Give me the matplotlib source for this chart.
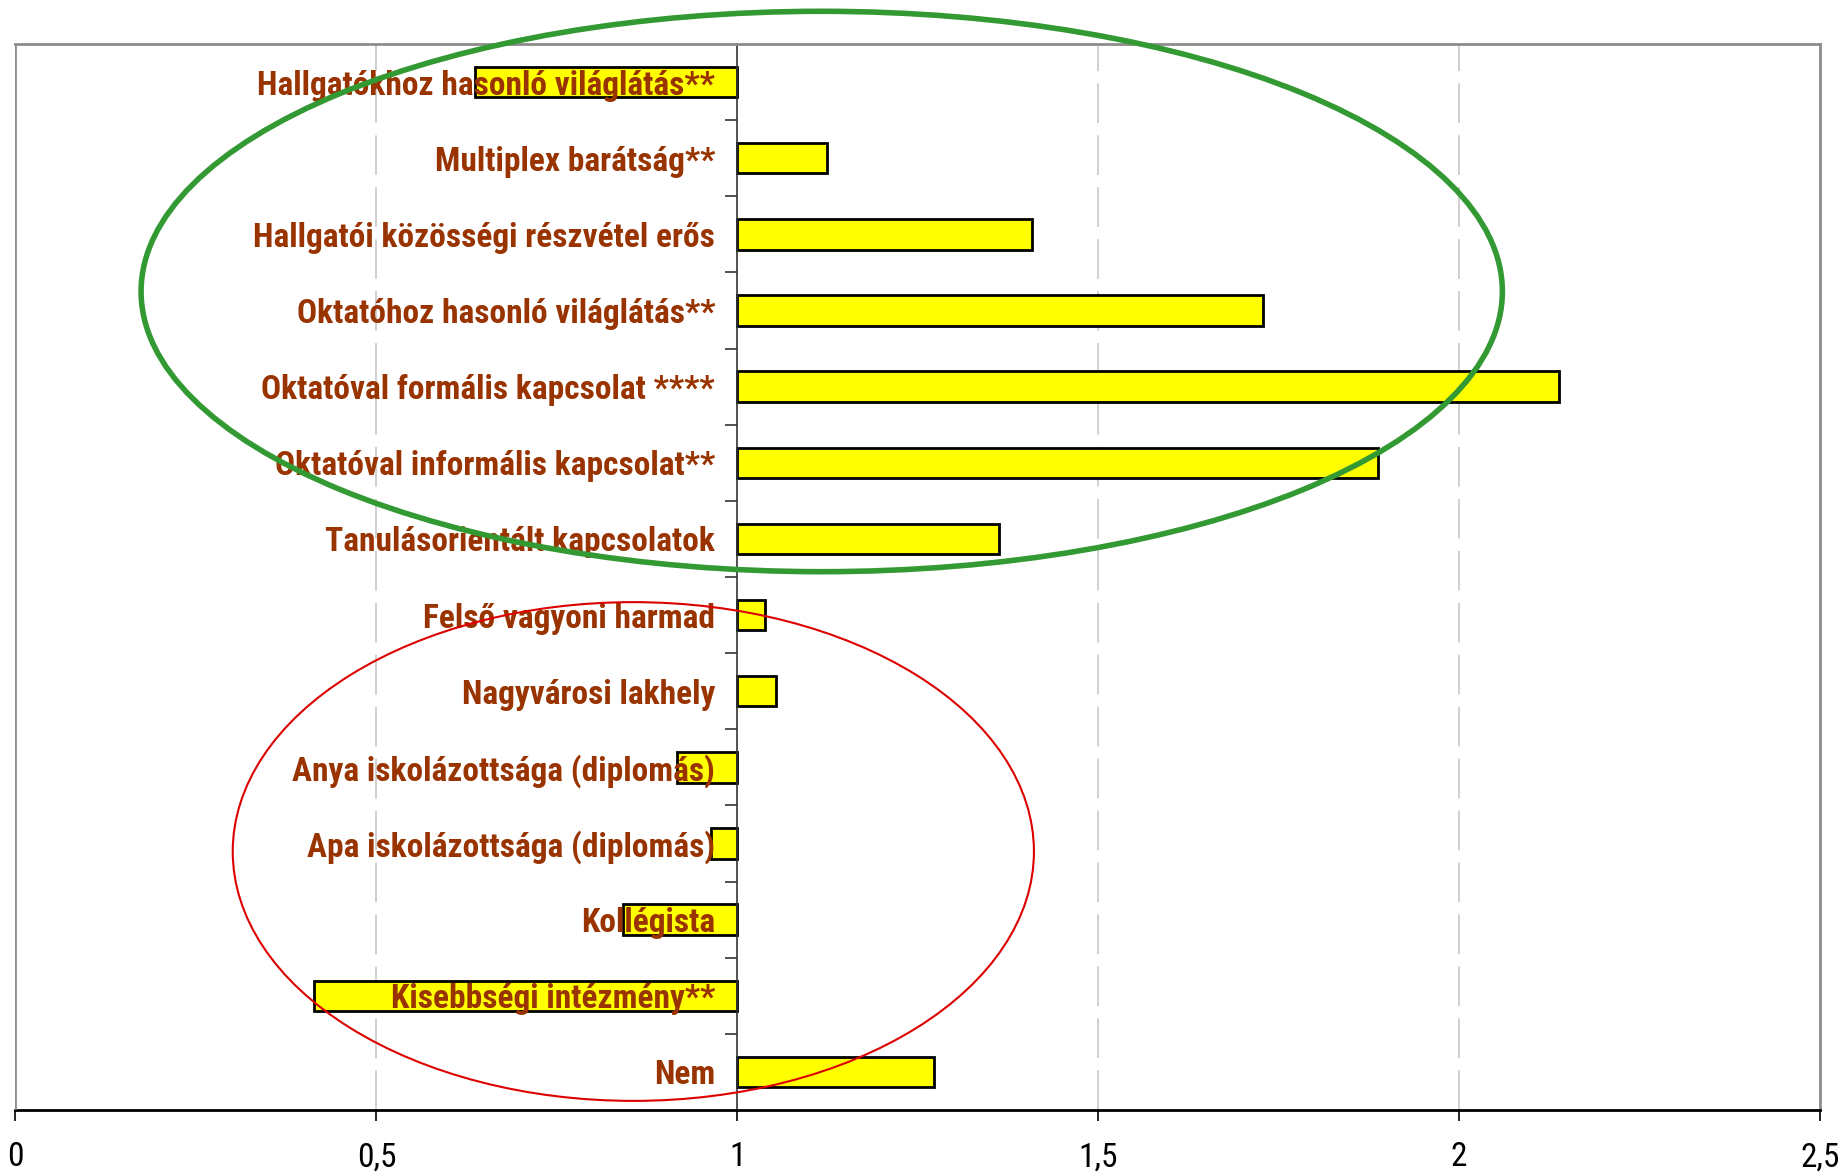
import matplotlib
import matplotlib.pyplot as plt
from matplotlib.patches import Ellipse
import numpy as np

matplotlib.use("Agg")

# categories from top to bottom
labels = [
    "Hallgatókhoz hasonló világlátás**",
    "Multiplex barátság**",
    "Hallgatói közösségi részvétel erős",
    "Oktatóhoz hasonló világlátás**",
    "Oktatóval formális kapcsolat ****",
    "Oktatóval informális kapcsolat**",
    "Tanulásorientált kapcsolatok",
    "Felső vagyoni harmad",
    "Nagyvárosi lakhely",
    "Anya iskolázottsága (diplomás)",
    "Apa iskolázottsága (diplomás)",
    "Kollégista",
    "Kisebbségi intézmény**",
    "Nem",
]
odds = [0.636, 1.125, 1.409, 1.729, 2.139, 1.887, 1.362,
        1.038, 1.053, 0.917, 0.963, 0.842, 0.414, 1.273]
baseline = 1.0
x_ticks = [0, 0.5, 1, 1.5, 2, 2.5]
x_ticklabels = ["0", "0,5", "1", "1,5", "2", "2,5"]

NARROW = ["Roboto Condensed", "PT Sans Narrow", "DejaVu Sans"]
BROWN = "#993300"

fig = plt.figure(figsize=(18.43, 11.74), dpi=100)
ax = fig.add_axes([0.0084, 0.0545, 0.9791, 0.908])

n = len(labels)
y = np.arange(n)[::-1]
vals = np.array(odds)

# move the value axis first (this resets the ticks)
ax.spines["left"].set_position(("data", baseline))
ax.spines["left"].set_color("#333333")
ax.spines["left"].set_linewidth(1.2)
ax.spines["bottom"].set_color("black")
ax.spines["bottom"].set_linewidth(2)
for s in ("top", "right"):
    ax.spines[s].set_color("#8c8c8c")
    ax.spines[s].set_linewidth(2)

ax.barh(y, vals - baseline, left=baseline, height=0.4,
        color="#FFFF00", edgecolor="black", linewidth=2, zorder=1)

ax.set_xlim(0, 2.5)
ax.set_ylim(-0.5, n - 0.5)

# dashed vertical gridlines behind bars
for v in x_ticks[1:-1]:
    if v != baseline:
        ax.axvline(v, color="#c4c4c4", linewidth=1.1, linestyle=(0, (26, 8)), zorder=0.5)
ax.axvline(0, color="#8c8c8c", linewidth=2, zorder=3)

ax.set_xticks(x_ticks)
ax.tick_params(axis="x", direction="out", length=8, width=1.2, labelbottom=False)
ax.tick_params(axis="y", which="major", length=0, pad=16)
ax.tick_params(axis="y", which="minor", direction="out", length=9, width=1.2, color="#333333")

# x tick labels as annotations under each tick
for v, s in zip(x_ticks, x_ticklabels):
    ax.annotate(s, xy=(v, 0), xycoords=("data", "axes fraction"),
                xytext=(0, -34), textcoords="offset points",
                ha="center", va="center", fontsize=24, fontweight="normal",
                family=NARROW, color="black", annotation_clip=False)

ax.set_yticks(np.arange(n - 1) + 0.5, minor=True)
ax.set_yticks(y)
ax.set_yticklabels(labels, family=NARROW, fontweight="bold", fontsize=24, color=BROWN)

# highlight ellipses
ax.add_patch(Ellipse((1.117, 10.25), 1.886, 7.36, fill=False,
                     edgecolor="#339933", linewidth=4, zorder=5, clip_on=False))
ax.add_patch(Ellipse((0.856, 2.895), 1.110, 6.55, fill=False,
                     edgecolor="#dd0000", linewidth=1.5, zorder=5, clip_on=False))

fig.savefig("out.png", dpi=100)
plt.close(fig)
